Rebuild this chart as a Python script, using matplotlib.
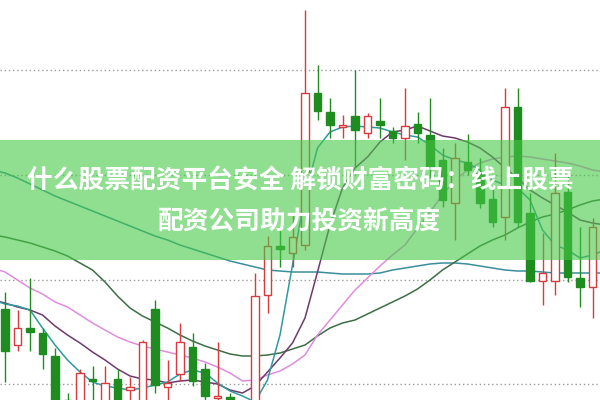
import matplotlib
matplotlib.use("Agg")
import matplotlib.pyplot as plt
import numpy as np

# Candle data (values in chart units, axis inverted: smaller = higher price)
opens  = [309, 345, 328, 333, 356, 400, 420, 379, 420, 379, 390, 425, 309, 387, 374, 347,
          369, 398, 397, 410, 425, 295, 246, 253, 245, 93, 112, 127, 116, 133, 121, 131,
          138, 124, 135, 160, 203, 162, 173, 199, 217, 107, 213, 281, 281, 192, 278, 287]
closes = [351, 328, 332, 354, 420, 425, 373, 381, 383, 420, 387, 342, 385, 383, 342, 381,
          396, 396, 425, 430, 296, 246, 249, 237, 93, 111, 125, 125, 130, 116, 125, 138,
          126, 133, 167, 200, 158, 170, 203, 222, 107, 222, 281, 273, 193, 277, 287, 227]
highs  = [292, 310, 278, 328, 348, 393, 369, 366, 366, 369, 377, 340, 300, 360, 323, 333,
          363, 342, 393, 405, 273, 236, 227, 213, 10, 65, 98, 115, 70, 113, 98, 127,
          88, 112, 98, 148, 143, 134, 158, 185, 88, 88, 193, 233, 153, 175, 227, 218]
lows   = [382, 351, 351, 369, 430, 435, 430, 415, 430, 430, 410, 430, 393, 405, 381, 386,
          406, 415, 435, 440, 430, 313, 267, 267, 250, 120, 138, 138, 167, 138, 138, 143,
          160, 143, 178, 207, 240, 175, 208, 227, 240, 227, 282, 305, 295, 282, 307, 318]

# Moving-average lines, one value per candle slot from index -1 to 48
ma5  = [300, 304, 306, 310, 328, 345, 360, 372, 382, 386, 388, 390, 388, 385, 382, 374, 370,
        373, 383, 391, 396, 402, 380, 335, 265, 195, 148, 132, 127, 126, 127, 128, 132,
        135, 137, 145, 155, 160, 163, 170, 180, 185, 188, 200, 230, 245, 250, 258, 255, 250]
ma10 = [300, 303, 307, 310, 315, 326, 335, 343, 352, 360, 369, 376, 379, 380, 383, 381, 380,
        382, 384, 390, 393, 386, 372, 358, 343, 318, 272, 225, 188, 168, 157, 142, 132,
        130, 126, 131, 136, 138, 142, 148, 157, 168, 178, 190, 198, 205, 212, 220, 223, 225]
ma20 = [268, 272, 280, 288, 294, 302, 307, 315, 323, 330, 337, 342, 346, 349, 352, 355, 358,
        362, 367, 373, 381, 380, 375, 371, 364, 355, 335, 320, 305, 290, 278, 266, 255,
        245, 228, 212, 195, 180, 170, 163, 159, 157, 156, 157, 159, 161, 163, 166, 170, 172]
ma30 = [235, 237, 240, 243, 247, 251, 256, 263, 270, 282, 296, 308, 316, 322, 328, 335, 341,
        346, 350, 354, 356, 356, 355, 353, 349, 345, 336, 328, 323, 320, 314, 308, 302,
        296, 289, 280, 270, 262, 254, 246, 240, 235, 228, 222, 217, 214, 210, 205, 201, 199]
ma60 = [170, 173, 178, 184, 190, 196, 201, 206, 211, 216, 221, 226, 231, 236, 240, 245, 249,
        253, 257, 261, 264, 267, 270, 271, 272, 272, 272, 273, 274, 274, 274, 273, 270,
        268, 266, 264, 263, 263, 264, 266, 268, 270, 271, 271, 272, 273, 273, 273, 273, 273]

grid_levels = [70, 175, 280, 384]
title_line1 = "什么股票配资平台安全 解锁财富密码：线上股票"
title_line2 = "配资公司助力投资新高度"

RED = "#d83a3f"
GREEN = "#1e8c1e"

plt.rcParams['font.family'] = ['Noto Sans CJK SC', 'DejaVu Sans']

fig = plt.figure(figsize=(6, 4), dpi=100)
ax = fig.add_axes([0, 0, 1, 1])
ax.set_xlim(-0.4, 47.6)
ax.set_ylim(400, 0)
ax.set_axis_off()

for g in grid_levels:
    ax.axhline(g, color="#9a9a9a", lw=1.0, linestyle=(0, (1, 2)), zorder=1)

xs = np.arange(-1, 49)
ax.plot(xs, ma60, color="#3a8e9c", lw=1.1, zorder=2)
ax.plot(xs, ma30, color="#3e6e44", lw=1.1, zorder=2)
ax.plot(xs, ma20, color="#e08ce0", lw=1.1, zorder=2)
ax.plot(xs, ma10, color="#6e3a6e", lw=1.1, zorder=2)
ax.plot(xs, ma5, color="#2f9aa0", lw=1.1, zorder=2)

idx = np.arange(len(opens))
for i in idx:
    o, c, h, l = opens[i], closes[i], highs[i], lows[i]
    up = c < o
    col = RED if up else GREEN
    ax.vlines(i, h, l, color=col, lw=1.0, zorder=3)
    top, bot = min(o, c), max(o, c)
    hgt = max(bot - top, 1.5)
    if up:
        ax.bar(i, hgt, bottom=top, width=0.62, facecolor="white", edgecolor=col,
               linewidth=1.0, zorder=4)
    else:
        ax.bar(i, hgt, bottom=top, width=0.62, facecolor=col, edgecolor=col,
               linewidth=1.0, zorder=4)

ax.axhspan(140, 260, color=(70/255, 200/255, 70/255), alpha=0.6, lw=0, zorder=5)

ax.text(23.6, 181, title_line1, ha="center", va="center", color="white",
        fontsize=18.5, fontweight="bold", zorder=6)
ax.text(23.6, 221, title_line2, ha="center", va="center", color="white",
        fontsize=18.5, fontweight="bold", zorder=6)

fig.savefig("out.png", dpi=100)
